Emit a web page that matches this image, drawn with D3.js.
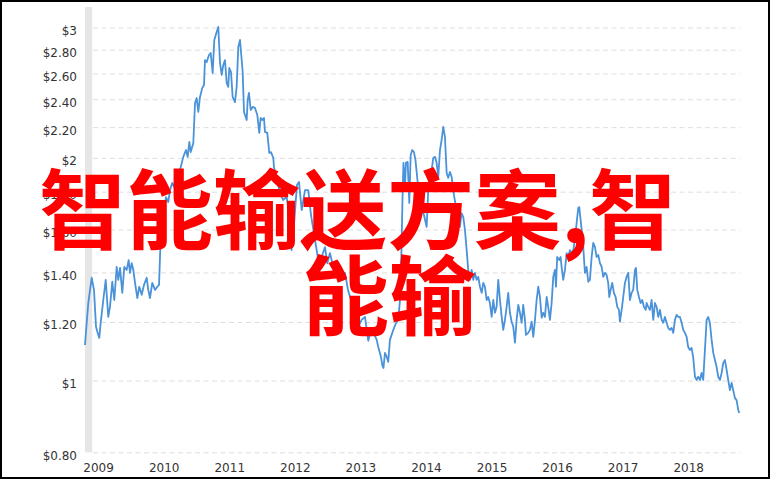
<!DOCTYPE html>
<html>
<head>
<meta charset="utf-8">
<script src="https://cdn.jsdelivr.net/npm/d3@7"></script>
<style>
  html, body { margin: 0; padding: 0; background: #fff; }
  svg { display: block; }
</style>
</head>
<body>
<svg id="chart" width="771" height="480"></svg>
<script>
// ---- data ----
const dates = [
2008.800,2008.826,2008.850,2008.902,2008.937,2008.968,2008.988,2009.018,2009.039,2009.079,
2009.116,2009.155,2009.181,2009.216,2009.247,2009.283,2009.308,2009.334,2009.369,2009.399,
2009.436,2009.466,2009.486,2009.512,2009.537,2009.563,2009.598,2009.628,2009.665,2009.700,
2009.741,2009.765,2009.791,2009.826,2009.868,2009.903,2009.929,2009.944,2009.959,2009.994,
2010.035,2010.070,2010.096,2010.131,2010.162,2010.198,2010.249,2010.299,2010.340,2010.366,
2010.391,2010.412,2010.452,2010.478,2010.503,2010.528,2010.554,2010.589,2010.615,2010.630,
2010.656,2010.691,2010.717,2010.747,2010.772,2010.808,2010.833,2010.859,2010.885,2010.909,
2010.935,2010.961,2010.985,2011.001,2011.027,2011.052,2011.088,2011.113,2011.138,2011.164,
2011.205,2011.225,2011.266,2011.281,2011.301,2011.327,2011.357,2011.393,2011.428,2011.458,
2011.479,2011.504,2011.530,2011.545,2011.580,2011.611,2011.637,2011.672,2011.682,2011.728,
2011.774,2011.820,2011.876,2011.911,2011.949,2011.987,2012.033,2012.064,2012.105,2012.155,
2012.205,2012.247,2012.308,2012.358,2012.410,2012.460,2012.495,2012.536,2012.586,2012.663,
2012.715,2012.765,2012.811,2012.857,2012.918,2012.968,2013.019,2013.070,2013.120,2013.157,
2013.197,2013.249,2013.273,2013.314,2013.337,2013.352,2013.375,2013.398,2013.425,2013.451,
2013.502,2013.538,2013.578,2013.604,2013.627,2013.642,2013.657,2013.680,2013.695,2013.721,
2013.746,2013.767,2013.791,2013.817,2013.840,2013.878,2013.924,2013.970,2014.011,2014.035,
2014.077,2014.112,2014.138,2014.163,2014.188,2014.214,2014.239,2014.264,2014.290,2014.316,
2014.340,2014.366,2014.392,2014.427,2014.468,2014.493,2014.519,2014.542,2014.569,2014.595,
2014.621,2014.645,2014.671,2014.697,2014.722,2014.748,2014.773,2014.798,2014.824,2014.850,
2014.874,2014.900,2014.926,2014.950,2014.976,2015.002,2015.027,2015.053,2015.078,2015.103,
2015.129,2015.155,2015.179,2015.205,2015.231,2015.255,2015.281,2015.307,2015.332,2015.358,
2015.383,2015.408,2015.434,2015.460,2015.484,2015.510,2015.525,2015.560,2015.586,2015.612,
2015.637,2015.663,2015.688,2015.713,2015.739,2015.765,2015.789,2015.815,2015.841,2015.865,
2015.891,2015.917,2015.942,2015.968,2015.983,2016.002,2016.033,2016.054,2016.069,2016.094,
2016.120,2016.146,2016.170,2016.196,2016.222,2016.246,2016.273,2016.298,2016.323,2016.338,
2016.359,2016.375,2016.399,2016.425,2016.451,2016.475,2016.501,2016.527,2016.552,2016.578,
2016.603,2016.628,2016.654,2016.680,2016.704,2016.730,2016.756,2016.780,2016.796,2016.817,
2016.841,2016.867,2016.893,2016.918,2016.944,2016.959,2016.985,2017.009,2017.035,2017.061,
2017.085,2017.111,2017.137,2017.161,2017.188,2017.203,2017.223,2017.249,2017.274,2017.299,
2017.325,2017.351,2017.366,2017.390,2017.416,2017.442,2017.467,2017.493,2017.518,2017.543,
2017.569,2017.595,2017.619,2017.645,2017.671,2017.695,2017.721,2017.747,2017.772,2017.798,
2017.823,2017.848,2017.874,2017.900,2017.924,2017.950,2017.976,2018.000,2018.026,2018.052,
2018.076,2018.103,2018.128,2018.153,2018.179,2018.204,2018.229,2018.255,2018.281,2018.305,
2018.331,2018.357,2018.382,2018.408,2018.433,2018.458,2018.484,2018.510,2018.534,2018.560,
2018.586,2018.610,2018.636,2018.662,2018.686,2018.713,2018.738,2018.763,2018.778
];
const prices = [
1.117,1.197,1.273,1.377,1.326,1.182,1.164,1.142,1.197,1.285,
1.368,1.219,1.258,1.360,1.285,1.424,1.368,1.420,1.314,1.424,
1.411,1.455,1.398,1.441,1.411,1.355,1.293,1.339,1.306,1.347,
1.377,1.326,1.293,1.355,1.326,1.339,1.347,1.469,1.583,1.684,
1.770,1.743,1.809,1.850,1.826,1.885,1.926,2.006,2.049,2.006,
2.101,2.036,2.094,2.372,2.409,2.307,2.417,2.486,2.509,2.711,
2.694,2.754,2.771,2.604,2.886,2.959,3.005,2.686,2.588,2.670,
2.711,2.525,2.494,2.645,2.612,2.417,2.379,2.494,2.823,2.886,
2.612,2.307,2.250,2.394,2.447,2.321,2.343,2.336,2.285,2.161,
2.264,2.250,2.264,2.168,2.161,2.030,2.036,1.999,1.944,1.867,
1.792,1.754,1.770,1.674,1.501,1.623,1.838,1.855,1.700,1.809,
1.809,1.674,1.549,1.455,1.469,1.515,1.441,1.487,1.424,1.398,
1.368,1.398,1.326,1.285,1.235,1.182,1.208,1.219,1.132,1.164,
1.164,1.135,1.110,1.076,1.047,1.040,1.090,1.079,1.060,1.135,
1.171,1.193,1.208,1.285,1.501,1.754,1.969,1.826,1.969,1.975,
1.738,2.018,2.049,2.036,1.987,1.838,1.754,1.674,1.613,1.809,
1.896,1.999,2.006,1.969,1.885,2.049,2.114,2.202,2.134,1.908,
1.879,1.914,1.885,1.781,1.700,1.633,1.613,1.684,1.664,1.598,
1.501,1.411,1.368,1.411,1.368,1.398,1.368,1.381,1.339,1.314,
1.355,1.339,1.285,1.297,1.273,1.219,1.285,1.235,1.258,1.368,
1.285,1.219,1.171,1.208,1.258,1.314,1.235,1.201,1.182,1.125,
1.208,1.266,1.235,1.197,1.266,1.208,1.153,1.160,1.171,1.201,
1.146,1.208,1.285,1.339,1.297,1.216,1.235,1.219,1.297,1.258,
1.208,1.273,1.381,1.411,1.339,1.469,1.455,1.469,1.424,1.368,
1.411,1.487,1.469,1.501,1.487,1.501,1.549,1.633,1.711,1.716,
1.648,1.598,1.515,1.398,1.424,1.360,1.368,1.469,1.535,1.515,
1.469,1.478,1.441,1.424,1.381,1.398,1.389,1.355,1.297,1.326,
1.355,1.314,1.297,1.258,1.246,1.201,1.246,1.297,1.355,1.381,
1.398,1.285,1.314,1.326,1.411,1.420,1.326,1.297,1.273,1.285,
1.258,1.246,1.273,1.258,1.246,1.285,1.208,1.273,1.258,1.219,
1.246,1.208,1.197,1.219,1.197,1.178,1.171,1.178,1.160,1.208,
1.227,1.219,1.219,1.197,1.171,1.160,1.146,1.110,1.100,1.107,
1.076,1.012,1.002,1.012,1.002,1.024,1.002,1.100,1.208,1.219,
1.197,1.135,1.090,1.066,1.043,1.012,1.002,1.024,1.056,1.066,
1.034,1.002,0.971,0.993,0.971,0.947,0.941,0.913,0.904
];
const yTicks = [0.8, 1, 1.2, 1.4, 1.6, 1.8, 2, 2.2, 2.4, 2.6, 2.8, 3];
const yTickLabels = ["$0.80", "$1", "$1.20", "$1.40", "$1.60", "$1.80", "$2", "$2.20", "$2.40", "$2.60", "$2.80", "$3"];
const xTicks = [2009, 2010, 2011, 2012, 2013, 2014, 2015, 2016, 2017, 2018];
const xTickLabels = ["2009", "2010", "2011", "2012", "2013", "2014", "2015", "2016", "2017", "2018"];
const shadedBand = [2008.8, 2008.91];
const overlayLines = ["智能输送方案,智", "能输"];

// ---- drawing ----
const svg = d3.select("#chart");
const plotLeft = 85, plotRight = 740, gridLeft = 93;

const x = d3.scaleLinear().domain([2008.8, 2018.79]).range([plotLeft, plotRight]);
const y = d3.scaleLog().domain([0.8, 3]).range([452.3, 27.5]);

// shaded band
svg.append("rect")
  .attr("x", x(shadedBand[0]))
  .attr("width", x(shadedBand[1]) - x(shadedBand[0]))
  .attr("y", 7)
  .attr("height", 452.3 - 7)
  .attr("fill", "#e6e6e6");

// y axis with gridlines
const yAxis = d3.axisLeft(y)
  .tickValues(yTicks)
  .tickFormat((d, i) => yTickLabels[i])
  .tickSize(-(plotRight - gridLeft))
  .tickPadding(16);
const gy = svg.append("g").attr("transform", `translate(${gridLeft},0)`).call(yAxis);
gy.select(".domain").remove();
gy.selectAll(".tick line")
  .attr("stroke", "#dedede")
  .attr("stroke-width", 1)
  .attr("stroke-dasharray", "5,3.5");
gy.selectAll(".tick text")
  .attr("dy", "7px")
  .attr("fill", "#333")
  .style("font-family", "'DejaVu Sans', Verdana, sans-serif")
  .style("font-size", "12px");

// x axis labels
const xAxis = d3.axisBottom(x)
  .tickValues(xTicks)
  .tickFormat((d, i) => xTickLabels[i])
  .tickSize(0)
  .tickPadding(11);
const gx = svg.append("g").attr("transform", "translate(0,452.3)").call(xAxis);
gx.select(".domain").remove();
gx.selectAll(".tick text")
  .attr("fill", "#333")
  .style("font-family", "'DejaVu Sans', Verdana, sans-serif")
  .style("font-size", "12px");

// price line
const series = dates.map((d, i) => ({ t: d, v: prices[i] }));
const line = d3.line().x(d => x(d.t)).y(d => y(d.v));
svg.append("path")
  .datum(series)
  .attr("d", line)
  .attr("fill", "none")
  .attr("stroke", "#4a92d9")
  .attr("stroke-width", 1.8)
  .attr("stroke-linejoin", "round");

// overlay text
const overlay = svg.append("g")
  .style("font-family", "'Noto Sans CJK SC', sans-serif")
  .style("font-weight", "700")
  .style("font-size", "87px")
  .attr("fill", "#ff0000");
overlay.append("text").attr("x", 39).attr("y", 243).text(overlayLines[0]);
overlay.append("text").attr("x", 302).attr("y", 329).text(overlayLines[1]);

// outer frame
svg.append("rect")
  .attr("x", 1).attr("y", 1)
  .attr("width", 768).attr("height", 477)
  .attr("fill", "none")
  .attr("stroke", "#000")
  .attr("stroke-width", 2);
</script>
</body>
</html>
